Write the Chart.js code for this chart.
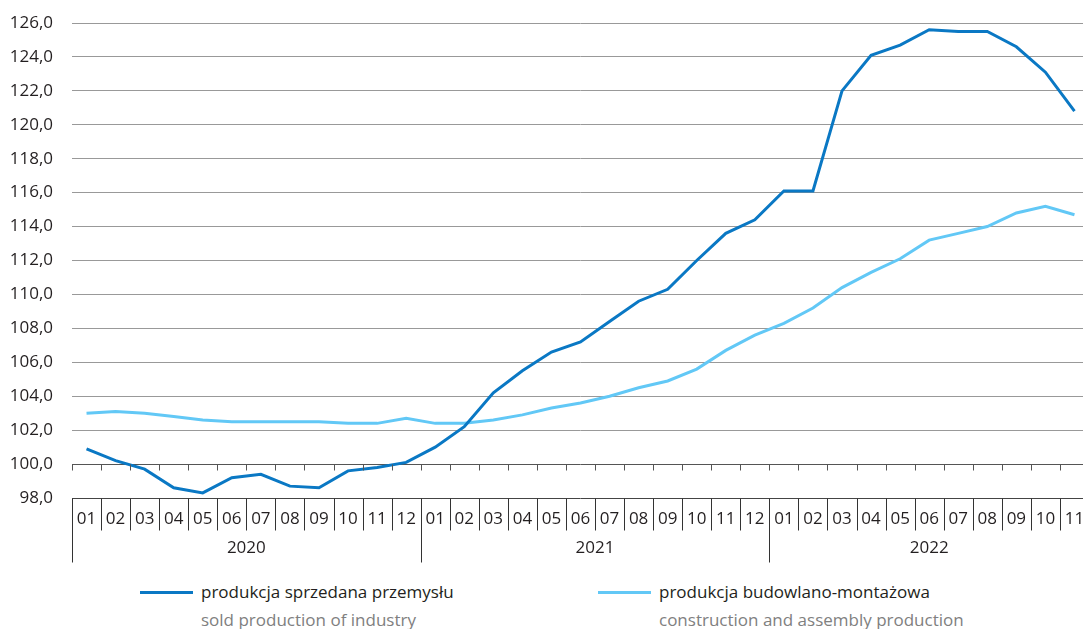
<!DOCTYPE html>
<html>
<head>
<meta charset="utf-8">
<script src="https://cdn.jsdelivr.net/npm/chart.js@4.4.0/dist/chart.umd.min.js"></script>
<style>
  html, body { margin: 0; padding: 0; background: #fff; overflow: hidden; }
  #wrap { position: relative; width: 1083px; height: 629px; overflow: hidden; font-family: "Open Sans", sans-serif; }
  #chart { position: absolute; left: 0; top: 0; }
  .leg { position: absolute; top: 578px; font-size: 17px; line-height: 28px; white-space: nowrap; }
  .leg .sw { position: absolute; left: -61px; top: 13px; width: 53px; height: 3px; }
  .leg .pl { color: #231f20; }
  .leg .en { color: #808080; }
</style>
</head>
<body>
<div id="wrap">
  <canvas id="chart" width="1090" height="575"></canvas>
  <div class="leg" style="left:201px">
    <span class="sw" style="background:#0a78c4"></span>
    <div class="pl">produkcja sprzedana przemysłu</div>
    <div class="en">sold production of industry</div>
  </div>
  <div class="leg" style="left:659px">
    <span class="sw" style="background:#62c8f6"></span>
    <div class="pl">produkcja budowlano-montażowa</div>
    <div class="en">construction and assembly production</div>
  </div>
</div>
<script>
// data (previous year = 100 style index)
const years = ['2020', '2021', '2022'];
const monthsPerYear = [12, 12, 11];
const months = ['01','02','03','04','05','06','07','08','09','10','11','12',
                '01','02','03','04','05','06','07','08','09','10','11','12',
                '01','02','03','04','05','06','07','08','09','10','11'];

const industry = [100.9, 100.2, 99.7, 98.6, 98.3, 99.2, 99.4, 98.7, 98.6, 99.6, 99.8, 100.1,
                  101.0, 102.2, 104.2, 105.5, 106.6, 107.2, 108.4, 109.6, 110.3, 112.0, 113.6, 114.4,
                  116.1, 116.1, 122.0, 124.1, 124.7, 125.6, 125.5, 125.5, 124.6, 123.1, 120.8];
const construction = [103.0, 103.1, 103.0, 102.8, 102.6, 102.5, 102.5, 102.5, 102.5, 102.4, 102.4, 102.7,
                      102.4, 102.4, 102.6, 102.9, 103.3, 103.6, 104.0, 104.5, 104.9, 105.6, 106.7, 107.6,
                      108.3, 109.2, 110.4, 111.3, 112.1, 113.2, 113.6, 114.0, 114.8, 115.2, 114.7];

const FONT = '"Open Sans", sans-serif';
const TEXT = '#231f20';

// ticks at the 100 line plus the month / year table under the plot
const tablePlugin = {
  id: 'table',
  afterDraw(chart) {
    const ctx = chart.ctx;
    const xs = chart.scales.x;
    const ys = chart.scales.y;
    const n = months.length;
    const step = (xs.right - xs.left) / n;
    const y100 = Math.round(ys.getPixelForValue(100)) + 0.5;
    const y98 = Math.round(ys.bottom) + 0.5;

    ctx.save();
    ctx.lineWidth = 1;
    ctx.strokeStyle = '#555';
    ctx.beginPath();
    for (let i = 0; i <= n; i++) {
      const x = Math.round(xs.left + i * step) + 0.5;
      ctx.moveTo(x, y100);
      ctx.lineTo(x, y100 + 6);
    }
    ctx.stroke();

    // month separators, longer ones at year boundaries
    const bounds = [0];
    monthsPerYear.forEach(m => bounds.push(bounds[bounds.length - 1] + m));
    ctx.strokeStyle = '#333';
    ctx.beginPath();
    for (let i = 0; i <= n; i++) {
      const x = Math.round(xs.left + i * step) + 0.5;
      const long = bounds.includes(i) && i < n;
      ctx.moveTo(x, y98);
      ctx.lineTo(x, y98 + (long ? 64 : 32));
    }
    ctx.stroke();

    ctx.fillStyle = TEXT;
    ctx.font = '17px ' + FONT;
    ctx.textAlign = 'center';
    ctx.textBaseline = 'middle';
    years.forEach((yr, k) => {
      const cx = xs.left + (bounds[k] + monthsPerYear[k] / 2) * step;
      ctx.fillText(yr, cx, y98 + 50);
    });
    ctx.restore();
  }
};

new Chart(document.getElementById('chart'), {
  type: 'line',
  data: {
    labels: months,
    datasets: [
      {
        label: 'produkcja sprzedana przemysłu',
        data: industry,
        borderColor: '#0a78c4',
        borderWidth: 3,
        pointRadius: 0,
        tension: 0,
      },
      {
        label: 'produkcja budowlano-montażowa',
        data: construction,
        borderColor: '#62c8f6',
        borderWidth: 3,
        pointRadius: 0,
        tension: 0,
      },
    ],
  },
  options: {
    responsive: false,
    animation: false,
    layout: { padding: { top: 23, left: 0, right: 1, bottom: 5 } },
    plugins: {
      legend: { display: false },
      tooltip: { enabled: false },
    },
    scales: {
      x: {
        offset: true,
        grid: { display: false },
        border: { display: false },
        ticks: {
          color: TEXT,
          font: { family: FONT, size: 17 },
          padding: 3,
          maxRotation: 0,
          autoSkip: false,
        },
        afterFit: scale => { scale.height = 72; },
      },
      y: {
        min: 98,
        max: 126,
        border: { display: false },
        grid: {
          drawTicks: false,
          color: c => c.tick && c.tick.value === 98 ? '#444' : (c.tick && c.tick.value === 100 ? '#555' : '#999'),
        },
        ticks: {
          stepSize: 2,
          color: TEXT,
          font: { family: FONT, size: 17 },
          padding: 19,
          callback: v => v.toFixed(1).replace('.', ','),
        },
        afterFit: scale => {
          scale.width = 72;
          scale.paddingTop = 0;
          scale.paddingBottom = 0;
        },
      },
    },
  },
  plugins: [tablePlugin],
});
</script>
</body>
</html>
